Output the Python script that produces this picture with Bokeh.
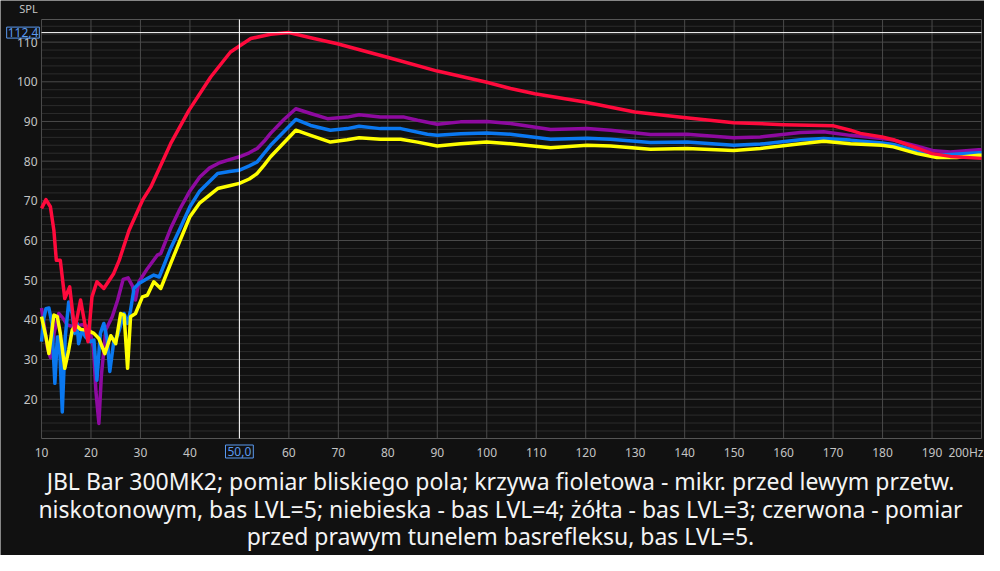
from bokeh.plotting import figure
from bokeh.models import Range1d, Label
from bokeh.core.properties import value
from bokeh.embed import file_html
from bokeh.resources import INLINE

# ---------------- data ----------------
freq_purple = [10, 10.5, 11.2, 11.8, 12.6, 13.5, 14.3, 15.2, 16.5, 18.2, 19.6, 20.5, 21.0, 21.6, 22.1,
               23.0, 24.3, 25.4, 26.5, 27.5, 28.4, 29.0, 29.7, 31.4, 33.4, 34.1, 36.1, 38, 40, 42, 44,
               46, 48, 50, 52, 53.6, 55, 56.3, 59, 61.4, 64.4, 67.8, 71.8, 74.2, 78.5, 83.3, 86, 90, 94.7,
               100, 104.8, 112.9, 120.3, 125, 133.1, 140.5, 149.9, 155.3, 163.4, 168.1, 173.5, 179.9,
               182.2, 187, 190.4, 193.7, 199.4, 200]
spl_purple = [43, 39, 33, 30.5, 37, 41.6, 40.5, 38.7, 38.3, 38.8, 38.2, 33, 22, 13.9, 26,
              37.5, 40.8, 45, 50.2, 50.6, 48.5, 45, 49.6, 52.9, 56.3, 56.7, 63, 68, 72.5, 76, 78.3,
              79.6, 80.4, 81.1, 82.1, 83.2, 85, 87, 90.5, 93.2, 92, 90.7, 91.1, 91.7, 91.1, 91.1, 90.3, 89.3, 89.9,
              90, 89.5, 88, 88.2, 87.8, 86.7, 86.8, 85.9, 86.1, 87.2, 87.4, 86.5, 85.7,
              85.3, 83.8, 82.6, 82.3, 82.9, 82.9]

freq_blue = [10, 10.4, 10.9, 11.5, 12.1, 12.7, 13.2, 13.6, 14.2, 14.8, 15.5, 16.2, 16.7, 17.2, 17.5,
             18.2, 18.9, 19.9, 20.6, 21.2, 21.9, 22.6, 23.3, 23.8, 24.6, 25.4, 26.7, 27.4, 28, 28.7,
             29.7, 31.4, 32.7, 33.8, 36.1, 38, 40, 42, 45.6, 48, 49.9, 52, 53.6, 55, 56.3, 61.4, 64.4, 68.4,
             71.8, 74.2, 78.5, 82.6, 88, 90, 94.7, 100, 104.8, 112.9, 120.3, 125, 133.1, 140.5,
             149.9, 155.3, 163.4, 168.1, 173.5, 179.9, 182.2, 187, 191, 193.7, 199.4, 200]
spl_blue = [34.5, 40, 42.8, 43, 39.1, 24, 35.7, 35.7, 16.8, 35.7, 44.5, 41.6, 36.6, 39.1, 34,
            37.4, 35.7, 34.5, 34.9, 24.8, 36.6, 39.1, 34.9, 27, 34.5, 36.1, 41.6, 39.1, 42.4, 47.9,
            49.2, 50.4, 51.3, 50.8, 58, 63, 68.5, 72.5, 76.9, 77.4, 77.7, 78.8, 79.8, 82.0, 84, 90.5, 89, 87.8,
            88.2, 88.8, 88.2, 88.2, 86.8, 86.5, 86.9, 87.1, 86.8, 85.5, 85.8, 85.5, 84.7, 84.8,
            84, 84.3, 85.4, 85.7, 85.3, 84.6, 84.2, 82.6, 81.5, 81.7, 82.1, 82.1]

freq_yellow = [10, 10.9, 11.5, 12.5, 13.2, 13.8, 14.7, 15.5, 16.2, 16.9, 17.9, 19.2, 20.6, 21.6, 22.8,
               24.0, 25.0, 26.0, 26.7, 27.4, 28, 29, 30.4, 31.4, 32.7, 34.1, 36.1, 38, 40, 42, 45.6,
               48, 50, 52, 53.6, 55, 56.3, 61.4, 64.4, 68.4, 71.8, 74.2, 78.5, 82.6, 86, 90, 94.7, 100, 104.8,
               112.9, 120.3, 125, 133.1, 140.5, 149.9, 155.3, 163.4, 168.1, 173.5, 179.9, 182.2,
               187, 191, 195, 199.4, 200]
spl_yellow = [40.8, 35.7, 31.5, 41.2, 40.8, 36.6, 27.8, 32.4, 37.4, 38.7, 37.6, 37.4, 36.6, 35.3, 31.5,
              36.0, 34, 41.6, 41.2, 27.8, 40.8, 41.6, 45.8, 46.2, 49.6, 47.9, 54.2, 60, 66, 69.5, 73.1,
              73.8, 74.4, 75.5, 76.9, 79.0, 81.1, 87.8, 86.5, 84.8, 85.4, 85.9, 85.5, 85.5, 84.8, 83.8, 84.4, 84.8, 84.4,
              83.4, 84, 83.8, 83, 83.2, 82.7, 83.2, 84.4, 85, 84.4, 84, 83.6,
              81.9, 80.9, 80.9, 81.5, 81.5]

freq_red = [10, 10.9, 11.8, 12.5, 13.0, 13.8, 14.7, 15.7, 16.7, 17.9, 19.4, 20.2, 21.2, 22.6, 24.6,
            25.7, 27.7, 30.4, 32.1, 36.1, 39.8, 44.2, 48.2, 52.3, 56.3, 60, 64.4, 69.8, 79.9, 90,
            100, 104.8, 109.7, 119.8, 129.9, 139.8, 149.9, 160, 170.1, 173.5, 175.5, 179.9, 182.2,
            186.3, 190, 193.7, 200]
spl_red = [68.1, 70.3, 68.5, 62.6, 55, 55, 45.4, 48.3, 37.4, 45, 34.5, 45.8, 49.6, 47.9, 51.7,
           55, 62.6, 70.1, 73.5, 84.4, 92.8, 101.2, 107.5, 110.9, 112.0, 112.4, 111.1, 109.6, 106.2, 102.7,
           99.9, 98.3, 97, 94.9, 92.4, 91, 89.7, 89.2, 88.9, 87.8, 87, 86.1, 85.4,
           83.6, 81.9, 81.2, 80.7]

x_ticks = [10, 20, 30, 40, 50, 60, 70, 80, 90, 100, 110, 120, 130, 140, 150, 160, 170, 180, 190, 200]
x_tick_labels = ["10", "20", "30", "40", "50", "60", "70", "80", "90", "100", "110", "120", "130",
                 "140", "150", "160", "170", "180", "190", "200Hz"]
y_major_ticks = [20, 30, 40, 50, 60, 70, 80, 90, 100, 110]
y_tick_labels = ["20", "30", "40", "50", "60", "70", "80", "90", "100", "110"]
y_minor_ticks = [12, 14, 16, 18, 22, 24, 26, 28, 32, 34, 36, 38, 42, 44, 46, 48, 52, 54, 56, 58,
                 62, 64, 66, 68, 72, 74, 76, 78, 82, 84, 86, 88, 92, 94, 96, 98, 102, 104, 106, 108,
                 112, 114]

x_min, x_max = 10, 200          # frequency axis limits (Hz)
y_min, y_max = 10.1, 115.7      # SPL axis limits (dB)

cursor_freq = 50.0
cursor_spl = 112.4
cursor_freq_text = "50,0"
cursor_spl_text = "112,4"

caption = [
    "JBL Bar 300MK2; pomiar bliskiego pola; krzywa fioletowa - mikr. przed lewym przetw.",
    "niskotonowym, bas LVL=5; niebieska - bas LVL=4; żółta - bas LVL=3; czerwona - pomiar",
    "przed prawym tunelem basrefleksu, bas LVL=5.",
]

# ---------------- layout (pixels) ----------------
W, H = 984, 555
FRAME_L, FRAME_R, FRAME_T, FRAME_B = 41, 981, 19, 438
px_x = (FRAME_R - FRAME_L) / (x_max - x_min)
px_y = (FRAME_B - FRAME_T) / (y_max - y_min)


def dx(px):  # horizontal pixel -> Hz
    return x_min + (px - FRAME_L) / px_x


def dy(py):  # vertical pixel (from top) -> dB
    return y_max - (py - FRAME_T) / px_y


BG = "#111111"
FONT = "Noto Sans"
TICK_COL = "#c4c4c4"
MAJOR_COL = "#4a4a4a"
MINOR_COL = "#2c2c2c"
BLUE_TXT = "#5b9af0"

p = figure(width=W, height=H,
           x_range=Range1d(dx(0), dx(W)), y_range=Range1d(dy(H), dy(0)),
           output_backend="svg", toolbar_location=None,
           min_border=0, min_border_left=0, min_border_right=0, min_border_top=0, min_border_bottom=0,
           background_fill_color=BG, border_fill_color=BG, outline_line_color=None)
p.axis.visible = False
p.grid.visible = False

# grid
p.segment(x0=[x_min] * len(y_minor_ticks), x1=[x_max] * len(y_minor_ticks),
          y0=y_minor_ticks, y1=y_minor_ticks, line_color=MINOR_COL, line_width=1)
p.segment(x0=[x_min] * len(y_major_ticks), x1=[x_max] * len(y_major_ticks),
          y0=y_major_ticks, y1=y_major_ticks, line_color=MAJOR_COL, line_width=1)
p.segment(x0=x_ticks, x1=x_ticks, y0=[y_min] * len(x_ticks), y1=[y_max] * len(x_ticks),
          line_color=MAJOR_COL, line_width=1)
p.segment(x0=[x_min, x_min], x1=[x_max, x_max], y0=[y_min, y_max], y1=[y_min, y_max],
          line_color="#555555", line_width=1)

# curves (red drawn last, on top)
p.line(freq_purple, spl_purple, line_color="#8e0aa0", line_width=3.5, line_join="round")
p.line(freq_blue, spl_blue, line_color="#0a78f0", line_width=3.5, line_join="round")
p.line(freq_yellow, spl_yellow, line_color="#ffff00", line_width=3.5, line_join="round")
p.line(freq_red, spl_red, line_color="#ff0a3c", line_width=3.5, line_join="round")

# cursor lines
p.segment(x0=[cursor_freq], x1=[cursor_freq], y0=[y_min], y1=[y_max], line_color="white", line_width=1)
p.segment(x0=[x_min], x1=[x_max], y0=[cursor_spl], y1=[cursor_spl], line_color="white", line_width=1)

# tick labels
p.text(x=[dx(FRAME_L - 4)] * len(y_major_ticks), y=y_major_ticks, text=y_tick_labels,
       text_align="right", text_baseline="middle", text_color=TICK_COL,
       text_font=value(FONT), text_font_size="12px")
x_lab_pos = x_ticks[:-1] + [dx(983)]
x_lab_align = ["center"] * (len(x_ticks) - 1) + ["right"]
p.text(x=x_lab_pos, y=[dy(452)] * len(x_ticks), text=x_tick_labels,
       text_align=x_lab_align, text_baseline="middle", text_color=TICK_COL,
       text_font=value(FONT), text_font_size="12px")

p.add_layout(Label(x=dx(28), y=dy(8), text="SPL", text_align="center", text_baseline="middle",
                   text_color=TICK_COL, text_font=FONT, text_font_size="11px"))

# cursor value boxes
p.add_layout(Label(x=cursor_freq, y=dy(451), text=cursor_freq_text, text_align="center",
                   text_baseline="middle", text_color=BLUE_TXT, text_font=FONT, text_font_size="12px",
                   background_fill_color=BG, border_line_color=BLUE_TXT, border_line_width=1,
                   padding=2))
p.add_layout(Label(x=dx(22.5), y=cursor_spl, text=cursor_spl_text, text_align="center",
                   text_baseline="middle", text_color=BLUE_TXT, text_font=FONT, text_font_size="12px",
                   background_fill_color=BG, border_line_color=BLUE_TXT, border_line_width=1,
                   padding=1))

# caption
for txt, mid in zip(caption, [480, 508, 535.5]):
    p.add_layout(Label(x=dx(500), y=dy(mid), text=txt, text_align="center",
                       text_baseline="middle", text_color="#f4f4f4", text_font=FONT,
                       text_font_size="23px"))

open("out.html", "w").write(file_html(p, INLINE))
